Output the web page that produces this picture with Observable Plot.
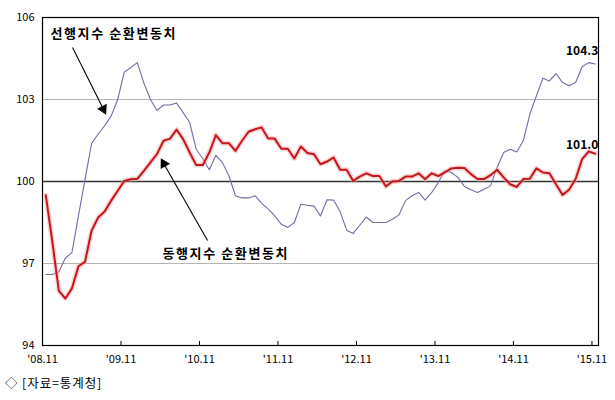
<!DOCTYPE html>
<html>
<head>
<meta charset="utf-8">
<script src="https://cdn.jsdelivr.net/npm/d3@7"></script>
<script src="https://cdn.jsdelivr.net/npm/@observablehq/plot@0.6"></script>
<style>
  html, body { margin: 0; padding: 0; background: #fff; }
  #src { font-family: "Noto Sans CJK KR", sans-serif; font-size: 12.5px; letter-spacing: 0.9px; color: #000; padding-left: 5px; line-height: 22px; height: 28px; }
</style>
</head>
<body>
<div id="chart"></div>
<div id="src">◇ [자료=통계청]</div>
<script>
// Monthly values, Nov 2008 – Nov 2015 (85 months)
const leading = [
  96.6, 96.6, 96.7, 97.2, 97.4, 98.75, 100.07, 101.39, 101.73, 102.04, 102.4, 103.0,
  104.0, 104.17, 104.35, 103.6, 103.0, 102.6, 102.8, 102.8, 102.87,
  102.52, 102.16, 101.18, 100.84, 100.43, 100.96, 100.7, 100.2, 99.48, 99.4, 99.4,
  99.48, 99.2, 99.0, 98.74, 98.44, 98.32, 98.5, 99.17, 99.13, 99.1,
  98.74, 99.33, 99.32, 98.9, 98.22, 98.1, 98.4, 98.7, 98.5, 98.5, 98.5,
  98.62, 98.78, 99.3, 99.48, 99.6, 99.32, 99.6, 99.96, 100.39, 100.33,
  100.15, 99.82, 99.7, 99.6, 99.72, 99.84, 100.51, 101.06, 101.18, 101.08, 101.49,
  102.46, 103.13, 103.78, 103.68, 103.95, 103.62, 103.5, 103.62, 104.2, 104.35, 104.3
];
const coincident = [
  99.5, 97.8, 96.0, 95.72, 96.09, 96.9, 97.06, 98.2, 98.68, 98.9, 99.3, 99.66,
  100.02, 100.08, 100.1, 100.39, 100.7, 101.0, 101.49, 101.57, 101.9,
  101.55, 101.06, 100.6, 100.6, 101.06, 101.7, 101.4, 101.4, 101.12, 101.49, 101.82,
  101.91, 101.98, 101.57, 101.57, 101.2, 101.2, 100.84, 101.28, 101.04, 101.0,
  100.63, 100.73, 100.88, 100.43, 100.43, 100.02, 100.18, 100.3, 100.2, 100.2, 99.82,
  100.0, 100.02, 100.18, 100.18, 100.3, 100.08, 100.3, 100.2, 100.33, 100.48,
  100.5, 100.49, 100.27, 100.09, 100.09, 100.23, 100.43, 100.15, 99.9, 99.8, 100.09,
  100.1, 100.48, 100.33, 100.3, 99.9, 99.51, 99.7, 100.09, 100.82, 101.1, 101.02
];
const xTickLabels = ["'08.11", "'09.11", "'10.11", "'11.11", "'12.11", "'13.11", "'14.11", "'15.11"];
const yTicks = [94, 97, 100, 103, 106];
const seriesNames = ["선행지수 순환변동치", "동행지수 순환변동치"];
const sourceText = "◇ [자료=통계청]";

// annotation arrows in data units (month index, value)
const arrows = [
  {x1: 4.59, y1: 104.9, x2: 9.3, y2: 102.65},
  {x1: 25.23, y1: 97.84, x2: 18.55, y2: 100.65}
];

const W = 615, H = 372, ML = 42, MR = 17, MT = 17, MB = 27;
const nMonths = leading.length;
const kx = (W - ML - MR) / nMonths;
const ky = (H - MT - MB) / (yTicks[yTicks.length - 1] - yTicks[0]);
arrows.forEach(a => {
  const ux = (a.x2 - a.x1) * kx, uy = -(a.y2 - a.y1) * ky;
  a.angle = Math.atan2(ux, -uy) * 180 / Math.PI;
});

const leadRows = leading.map((v, i) => ({x: i + 0.5, v}));
const coinRows = coincident.map((v, i) => ({x: i + 0.5, v}));
const xTickPos = xTickLabels.map((_, i) => i * 12);

const chart = Plot.plot({
  width: W, height: H,
  marginLeft: ML, marginRight: MR, marginTop: MT, marginBottom: MB,
  x: {domain: [0, nMonths]},
  y: {domain: [yTicks[0], yTicks[yTicks.length - 1]]},
  style: {fontFamily: "'Noto Sans CJK KR', 'Noto Sans', sans-serif", fontSize: "11px", color: "#000", background: "#fff"},
  marks: [
    Plot.ruleY([97, 103], {stroke: "#b4b4b4", strokeWidth: 1.2}),
    Plot.ruleY([100], {stroke: "#333", strokeWidth: 1.6}),
    Plot.axisY({ticks: yTicks, tickSize: 0, tickPadding: 8, label: null}),
    Plot.axisX({ticks: xTickPos, tickFormat: (d, i) => xTickLabels[i], tickSize: 0, tickPadding: 10, label: null}),
    Plot.ruleX(xTickPos.slice(1), {x: d => d, y1: yTicks[0], y2: yTicks[0], insetTop: -4, stroke: "#000"}),
    Plot.line(leadRows, {x: "x", y: "v", stroke: "#6e6ea8", strokeWidth: 1.1}),
    Plot.line(coinRows, {x: "x", y: "v", stroke: "#f4a3a6", strokeWidth: 5, strokeOpacity: 0.45}),
    Plot.line(coinRows, {x: "x", y: "v", stroke: "#c8151b", strokeWidth: 2}),
    Plot.frame({stroke: "#000", strokeWidth: 1.2}),
    Plot.link(arrows, {x1: "x1", y1: "y1", x2: "x2", y2: "y2", stroke: "#000", strokeWidth: 1.1}),
    Plot.dot(arrows, {x: "x2", y: "y2", symbol: "triangle", r: 4, fill: "#000", stroke: null, rotate: "angle"}),
    Plot.text([leadRows[leadRows.length - 1]], {x: "x", y: "v", text: d => d.v.toFixed(1), textAnchor: "end", dx: 3, dy: -13, fontWeight: "bold", fontSize: 12}),
    Plot.text([coinRows[coinRows.length - 1]], {x: "x", y: "v", text: d => d.v.toFixed(1), textAnchor: "end", dx: 3, dy: -8, fontWeight: "bold", fontSize: 12}),
    Plot.text([seriesNames[0]], {frameAnchor: "top-left", dx: 8, dy: 16, textAnchor: "start", lineAnchor: "middle", fontWeight: "bold", fontSize: 13}),
    Plot.text([seriesNames[1]], {frameAnchor: "top-left", dx: 120, dy: 236, textAnchor: "start", lineAnchor: "middle", fontWeight: "bold", fontSize: 13})
  ]
});
d3.select(chart).selectAll("text").filter(function () { return seriesNames.includes(this.textContent); })
  .style("letter-spacing", "1.6px");
document.getElementById("chart").appendChild(chart);
document.getElementById("src").textContent = sourceText;
</script>
</body>
</html>
